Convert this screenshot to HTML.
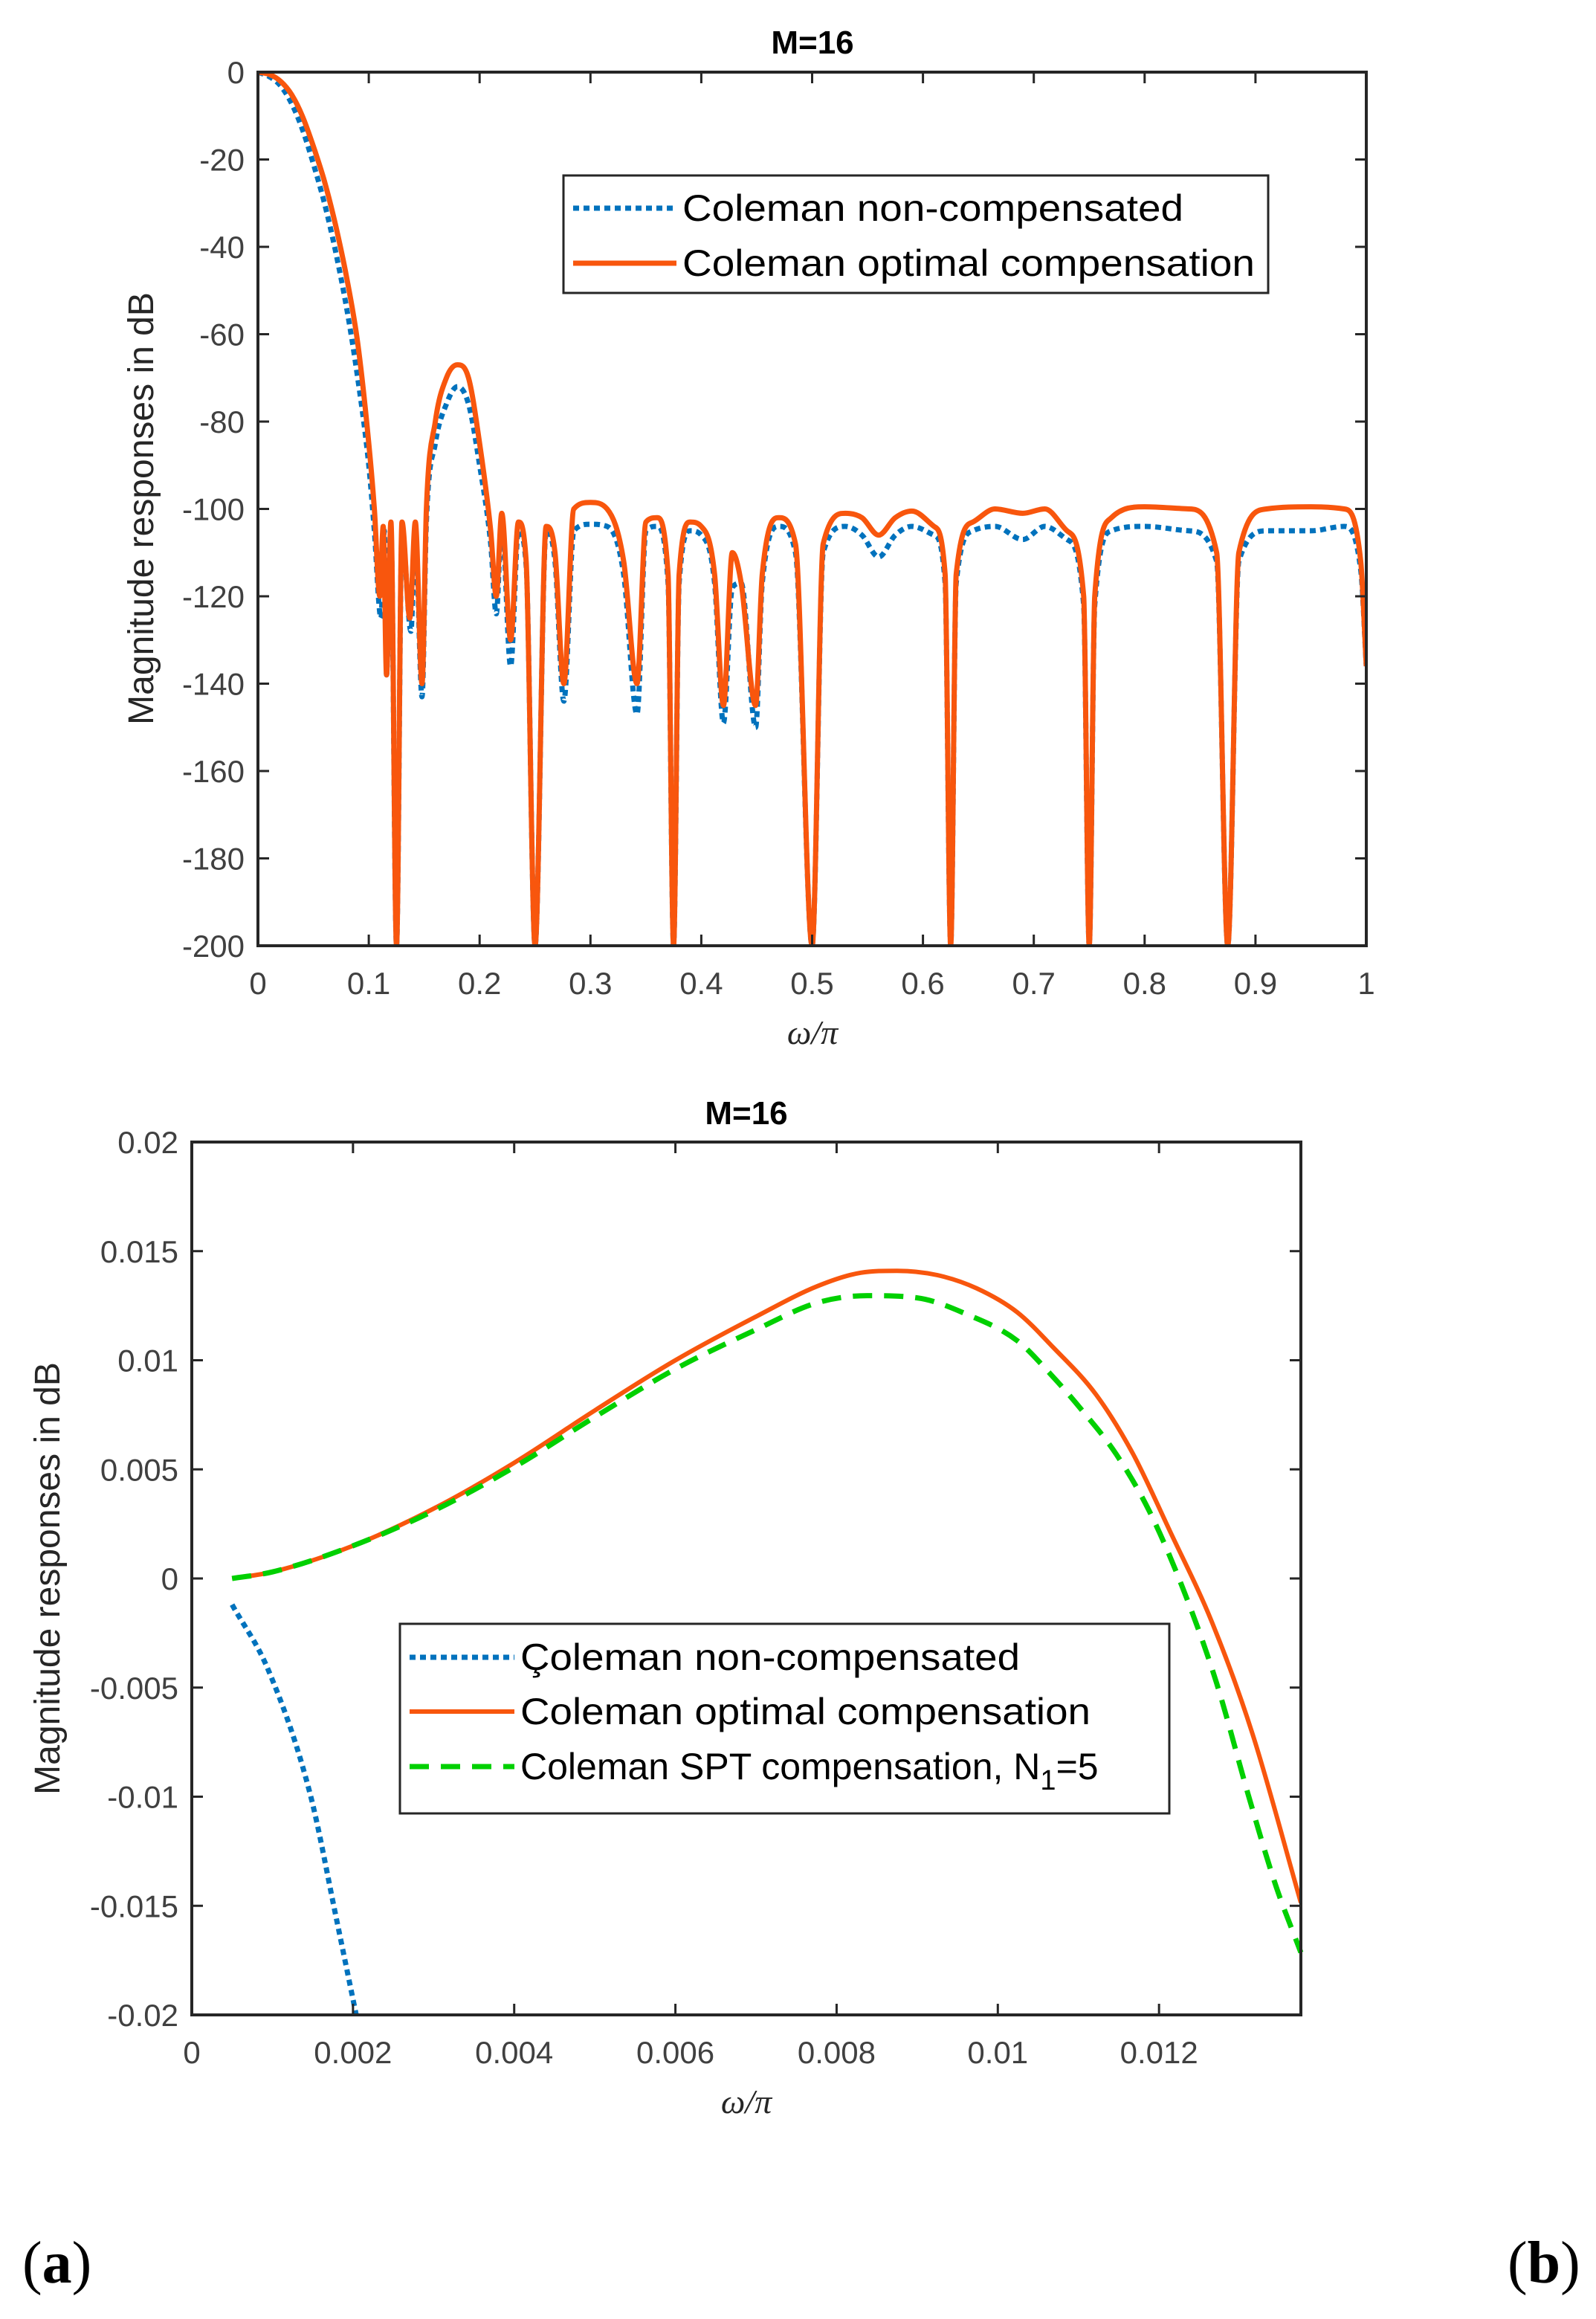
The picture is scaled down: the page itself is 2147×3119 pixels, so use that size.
<!DOCTYPE html>
<html><head><meta charset="utf-8"><style>
html,body{margin:0;padding:0;background:#fff;}
svg{display:block;}
</style></head>
<body>
<svg id="fig" width="2147" height="3119" viewBox="0 0 2147 3119" xmlns="http://www.w3.org/2000/svg" font-family="Liberation Sans, Arial, sans-serif">
<rect width="2147" height="3119" fill="#fff"/>
<g id="top"></g>
<g id="bot"></g>
<text x="30" y="3070" style="font-family:'Liberation Serif',serif" font-size="80">(<tspan font-weight="bold">a</tspan>)</text>
<text x="2028" y="3070" style="font-family:'Liberation Serif',serif" font-size="80">(<tspan font-weight="bold">b</tspan>)</text>
</svg>
<script>
// ---- Top chart data ----
const topXTicks = [0,0.1,0.2,0.3,0.4,0.5,0.6,0.7,0.8,0.9,1];
const topXTickLabels = ["0","0.1","0.2","0.3","0.4","0.5","0.6","0.7","0.8","0.9","1"];
const topYTicks = [0,-20,-40,-60,-80,-100,-120,-140,-160,-180,-200];
const topYTickLabels = ["0","-20","-40","-60","-80","-100","-120","-140","-160","-180","-200"];
const optX = [0,0.01,0.02,0.03,0.04,0.05,0.06,0.07,0.08,0.09,0.1,0.105,0.11,0.113,0.116,0.12,0.125,0.13,0.137,0.142,0.148,0.152,0.16,0.17,0.18,0.19,0.2,0.21,0.215,0.22,0.228,0.235,0.242,0.25,0.26,0.268,0.276,0.285,0.3,0.315,0.33,0.342,0.35,0.36,0.37,0.375,0.38,0.39,0.4,0.412,0.42,0.428,0.436,0.449,0.455,0.47,0.485,0.5,0.51,0.53,0.545,0.56,0.575,0.59,0.61,0.62,0.625,0.63,0.645,0.665,0.69,0.71,0.73,0.745,0.75,0.755,0.77,0.8,0.84,0.865,0.875,0.885,0.91,0.95,0.98,0.995,1];
const optY = [0,-0.5,-2,-5,-10,-17,-25,-35,-47,-62,-85,-100,-120,-104,-138,-103,-200,-103,-125,-103,-140,-100,-80,-70,-67,-70,-85,-105,-120,-101,-130,-103,-112,-200,-104,-110,-140,-100,-98.5,-100,-112,-140,-103,-102,-115,-200,-115,-103,-104,-115,-145,-110,-117,-145,-115,-102,-108,-200,-108,-101,-102,-106,-102,-100.5,-104,-115,-200,-115,-103,-100,-101,-100,-105,-120,-200,-120,-102,-99.5,-100,-110,-200,-110,-100,-99.5,-100,-112,-136];
const ncX = [0,0.01,0.02,0.03,0.04,0.05,0.06,0.07,0.08,0.09,0.1,0.105,0.111,0.114,0.116,0.12,0.125,0.13,0.138,0.142,0.148,0.152,0.16,0.17,0.18,0.19,0.2,0.21,0.215,0.22,0.228,0.235,0.242,0.25,0.26,0.268,0.276,0.285,0.3,0.315,0.33,0.342,0.35,0.36,0.37,0.375,0.38,0.39,0.4,0.412,0.42,0.428,0.436,0.449,0.455,0.47,0.485,0.5,0.51,0.53,0.545,0.56,0.575,0.59,0.61,0.62,0.625,0.63,0.645,0.665,0.69,0.71,0.73,0.745,0.75,0.755,0.77,0.8,0.84,0.865,0.875,0.885,0.91,0.95,0.98,0.995,1];
const ncY = [0,-1,-3,-7,-13,-21,-30,-41,-54,-70,-90,-105,-125,-105,-138,-105,-200,-105,-128,-105,-143,-103,-85,-76,-72,-76,-90,-108,-124,-103,-136,-105,-113,-200,-105,-112,-144,-105,-103.5,-104,-115,-147,-105,-104,-117,-200,-117,-105,-106,-117,-149,-118,-117,-150,-117,-104,-110,-200,-110,-104,-106,-111,-106,-104,-106,-117,-200,-117,-105,-104,-107,-104,-107,-122,-200,-122,-105,-104,-105,-112,-200,-112,-105,-105,-104,-114,-136];

// ---- Bottom chart data ----
const botXTicks = [0,0.002,0.004,0.006,0.008,0.01,0.012];
const botXTickLabels = ["0","0.002","0.004","0.006","0.008","0.01","0.012"];
const botYTicks = [0.02,0.015,0.01,0.005,0,-0.005,-0.01,-0.015,-0.02];
const botYTickLabels = ["0.02","0.015","0.01","0.005","0","-0.005","-0.01","-0.015","-0.02"];
const bOptX = [0.0005,0.001,0.002,0.003,0.004,0.005,0.006,0.007,0.007765,0.0083,0.00875,0.00925,0.00974,0.01024,0.01069,0.01122,0.01168,0.01213,0.01266,0.01316,0.01376];
const bOptY = [0,0.0003,0.0015,0.0032,0.0053,0.0077,0.0100,0.0120,0.0134,0.01401,0.0141,0.0139,0.01329,0.0122,0.01058,0.00842,0.00569,0.00221,-0.00203,-0.00712,-0.01486];
const bSptX = [0.0005,0.001,0.002,0.003,0.004,0.005,0.006,0.007,0.007765,0.00838,0.009,0.00962,0.01024,0.01065,0.01106,0.01147,0.01188,0.01229,0.01271,0.01311,0.01345,0.01376];
const bSptY = [0,0.0003,0.0015,0.0031,0.0051,0.0074,0.0096,0.0114,0.01264,0.01296,0.01286,0.0121,0.0109,0.00938,0.00764,0.00569,0.00308,-0.0004,-0.00474,-0.00995,-0.01409,-0.01714];
const bNcX = [0.0005,0.00095,0.00147,0.0018,0.00204];
const bNcY = [-0.0012,-0.0042,-0.0099,-0.0157,-0.02];

const NS = "http://www.w3.org/2000/svg";
function mk(parent, tag, attrs, txt){
  const e = document.createElementNS(NS, tag);
  for (const k in attrs) e.setAttribute(k, attrs[k]);
  if (txt !== undefined) e.textContent = txt;
  parent.appendChild(e);
  return e;
}

function drawAxes(g, L, R, T, B, xs, ys, xTicks, xLabels, yTicks, yLabels, xLabY, yLabX){
  xTicks.forEach((v,i)=>{
    const x = xs(v);
    const t1 = mk(g,'line',{x1:x,x2:x,y1:B,y2:B-15,stroke:'#262626','stroke-width':3});
    
    
    const t2 = mk(g,'line',{x1:x,x2:x,y1:T,y2:T+15,stroke:'#262626','stroke-width':3});
    
    
    const lb = mk(g,'text',{x:x,y:xLabY,'text-anchor':'middle','font-size':42,fill:'#404040'},xLabels[i]);
    
    
  });
  yTicks.forEach((v,i)=>{
    const y = ys(v);
    const t1 = mk(g,'line',{x1:L,x2:L+15,y1:y,y2:y,stroke:'#262626','stroke-width':3});
    
    
    const t2 = mk(g,'line',{x1:R,x2:R-15,y1:y,y2:y,stroke:'#262626','stroke-width':3});
    
    
    const lb = mk(g,'text',{x:yLabX,y:y+15,'text-anchor':'end','font-size':42,fill:'#404040'},yLabels[i]);
    
    
  });
  const fr = mk(g,'rect',{x:L,y:T,width:R-L,height:B-T,fill:'none',stroke:'#262626','stroke-width':4});
  
  
}

// monotone cubic (Fritsch-Carlson) path through pixel points
function monoPath(P){
  const n=P.length; if(n<2) return '';
  const d=[],m=[];
  for(let i=0;i<n-1;i++){ const dx=P[i+1][0]-P[i][0]; d.push(dx===0?0:(P[i+1][1]-P[i][1])/dx); }
  m[0]=d[0]; m[n-1]=d[n-2];
  for(let i=1;i<n-1;i++){ m[i]=(d[i-1]*d[i]<=0)?0:(d[i-1]+d[i])/2; }
  for(let i=0;i<n-1;i++){
    if(d[i]===0){m[i]=0;m[i+1]=0;continue;}
    const a=m[i]/d[i], b=m[i+1]/d[i], s=a*a+b*b;
    if(s>9){const t=3/Math.sqrt(s); m[i]=t*a*d[i]; m[i+1]=t*b*d[i];}
  }
  let s='M'+P[0][0].toFixed(1)+','+P[0][1].toFixed(1);
  for(let i=0;i<n-1;i++){
    const h=(P[i+1][0]-P[i][0])/3;
    s+=' C'+(P[i][0]+h).toFixed(1)+','+(P[i][1]+m[i]*h).toFixed(1)+' '+(P[i+1][0]-h).toFixed(1)+','+(P[i+1][1]-m[i+1]*h).toFixed(1)+' '+P[i+1][0].toFixed(1)+','+P[i+1][1].toFixed(1);
  }
  return s;
}

function series(g, xs, ys, X, Y, attrs, name, clipId){
  const P = X.map((v,i)=>[xs(v), ys(Y[i])]);
  const a = Object.assign({d:monoPath(P),fill:'none','stroke-linejoin':'round'},attrs);
  if (clipId) a['clip-path']='url(#'+clipId+')';
  const p = mk(g,'path',a);
  
  
}

const defs = mk(document.getElementById('fig'),'defs',{});
mk(mk(defs,'clipPath',{id:'clipTop'}),'rect',{x:347,y:97,width:1491,height:1175});
mk(mk(defs,'clipPath',{id:'clipBot'}),'rect',{x:258,y:1536,width:1492,height:1174});

const BLUE='#0072BD', ORANGE='#F8560D', GREEN='#00D000';

// ---- Top chart ----
(function(){
  const g = document.getElementById('top');
  const L=347,R=1838,T=97,B=1272;
  const xs = v => L + (v-0)/(1-0)*(R-L);
  const ys = v => T + (0-v)/(0-(-200))*(B-T);
  series(g,xs,ys,ncX,ncY,{stroke:BLUE,'stroke-width':7,'stroke-dasharray':'8 6'},'series-non-compensated','clipTop');
  series(g,xs,ys,optX,optY,{stroke:ORANGE,'stroke-width':7},'series-optimal-compensation','clipTop');
  drawAxes(g,L,R,T,B,xs,ys,topXTicks,topXTickLabels,topYTicks,topYTickLabels,1337,329);
  const ti = mk(g,'text',{x:1093,y:72,'text-anchor':'middle','font-size':44,'font-weight':'bold',fill:'#000'},'M=16');
   
  const yl = mk(g,'text',{x:0,y:0,'text-anchor':'middle','font-size':48,fill:'#262626',transform:'translate(206,684) rotate(-90)'},'Magnitude responses in dB');
   
  const xl = mk(g,'text',{x:1093,y:1404,'text-anchor':'middle','font-size':46,'font-style':'italic',fill:'#262626',style:"font-family:'Liberation Serif',serif"},'ω/π');
   
  const lg = mk(g,'g',{});
   
  mk(lg,'rect',{x:758,y:236,width:948,height:158,fill:'#fff',stroke:'#262626','stroke-width':3});
  const l1 = mk(lg,'line',{x1:771,x2:910,y1:280,y2:280,stroke:BLUE,'stroke-width':7,'stroke-dasharray':'8 6'});
   
  const t1 = mk(lg,'text',{x:918,y:297,'font-size':50,fill:'#000',textLength:674,lengthAdjust:'spacingAndGlyphs'},'Coleman non-compensated');
   
  const l2 = mk(lg,'line',{x1:771,x2:910,y1:354,y2:354,stroke:ORANGE,'stroke-width':7});
   
  const t2 = mk(lg,'text',{x:918,y:371,'font-size':50,fill:'#000',textLength:770,lengthAdjust:'spacingAndGlyphs'},'Coleman optimal compensation');
   
})();

// ---- Bottom chart ----
(function(){
  const g = document.getElementById('bot');
  const L=258,R=1750,T=1536,B=2710;
  const XMAX=0.01376;
  const xs = v => L + v/XMAX*(R-L);
  const ys = v => T + (0.02-v)/0.04*(B-T);
  series(g,xs,ys,bNcX,bNcY,{stroke:BLUE,'stroke-width':7,'stroke-dasharray':'8 6'},'series-non-compensated','clipBot');
  series(g,xs,ys,bOptX,bOptY,{stroke:ORANGE,'stroke-width':6},'series-optimal-compensation','clipBot');
  series(g,xs,ys,bSptX,bSptY,{stroke:GREEN,'stroke-width':7,'stroke-dasharray':'26 16'},'series-spt-compensation',null);
  drawAxes(g,L,R,T,B,xs,ys,botXTicks,botXTickLabels,botYTicks,botYTickLabels,2775,240);
  const ti = mk(g,'text',{x:1004,y:1512,'text-anchor':'middle','font-size':44,'font-weight':'bold',fill:'#000'},'M=16');
   
  const yl = mk(g,'text',{x:0,y:0,'text-anchor':'middle','font-size':48,fill:'#262626',transform:'translate(80,2123) rotate(-90)'},'Magnitude responses in dB');
   
  const xl = mk(g,'text',{x:1004,y:2842,'text-anchor':'middle','font-size':46,'font-style':'italic',fill:'#262626',style:"font-family:'Liberation Serif',serif"},'ω/π');
   
  const lg = mk(g,'g',{});
   
  mk(lg,'rect',{x:538,y:2184,width:1035,height:255,fill:'#fff',stroke:'#262626','stroke-width':3});
  const l1 = mk(lg,'line',{x1:551,x2:692,y1:2229,y2:2229,stroke:BLUE,'stroke-width':7,'stroke-dasharray':'8 6'});
   
  const t1 = mk(lg,'text',{x:700,y:2246,'font-size':50,fill:'#000',textLength:672,lengthAdjust:'spacingAndGlyphs'},'Çoleman non-compensated');
   
  const l2 = mk(lg,'line',{x1:551,x2:692,y1:2302,y2:2302,stroke:ORANGE,'stroke-width':6});
   
  const t2 = mk(lg,'text',{x:700,y:2319,'font-size':50,fill:'#000',textLength:767,lengthAdjust:'spacingAndGlyphs'},'Coleman optimal compensation');
   
  const l3 = mk(lg,'line',{x1:551,x2:692,y1:2376,y2:2376,stroke:GREEN,'stroke-width':7,'stroke-dasharray':'26 16'});
   
  const t3 = mk(lg,'text',{x:700,y:2393,'font-size':50,fill:'#000'});
   
  mk(t3,'tspan',{},'Coleman SPT compensation, N');
  mk(t3,'tspan',{dy:14,'font-size':38},'1');
  mk(t3,'tspan',{dy:-14},'=5');
})();
</script>
</body></html>
